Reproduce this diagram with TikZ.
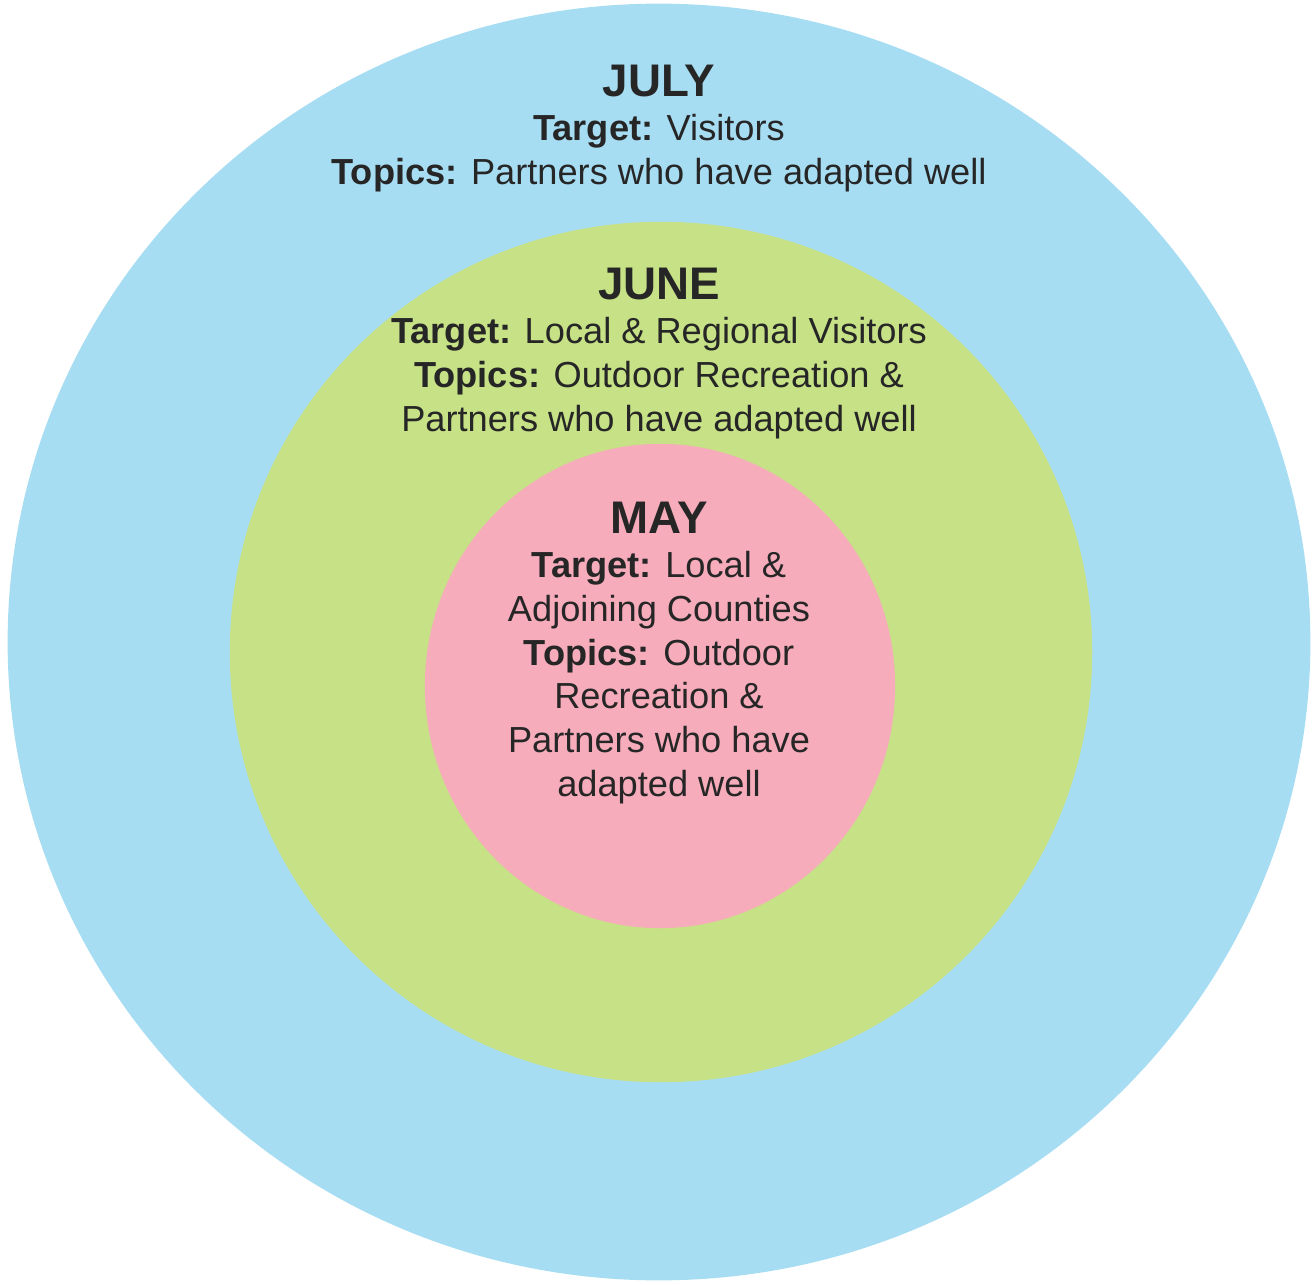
\documentclass[tikz,border=0pt]{standalone}
\usepackage{fontspec}
\setmainfont{Liberation Sans}
\usepackage{xcolor}
\usepackage{tikz}
\definecolor{julyblue}{RGB}{167,221,243}
\definecolor{junegreen}{RGB}{198,225,134}
\definecolor{maypink}{RGB}{246,172,187}
\definecolor{ink}{RGB}{38,38,38}
\tikzstyle{lbl}=[align=center, inner sep=0pt, anchor=north, text=ink, font=\fontsize{10.3}{12.5}\selectfont]
\newcommand{\mon}[1]{{\fontsize{13}{12.5}\selectfont\bfseries #1}}

\begin{document}
\begin{tikzpicture}[x=0.01cm, y=-0.01cm]
\useasboundingbox (0,0) rectangle (1312,1285);
% rings
\fill[julyblue] (659,642) ellipse [x radius=6.51cm, y radius=6.38cm];
\fill[junegreen] (661,652) ellipse [x radius=4.31cm, y radius=4.30cm];
\fill[maypink] (660,686) ellipse [x radius=2.35cm, y radius=2.42cm];
% texts
\node[lbl] (jul) at (659,64) {\mon{JULY}\\ \textbf{Target:} Visitors\\ \textbf{Topics:} Partners who have adapted well};
\node[lbl] (jun) at (659,267) {\mon{JUNE}\\ \textbf{Target:} Local \& Regional Visitors\\ \textbf{Topics:} Outdoor Recreation \&\\ Partners who have adapted well};
\node[lbl] (may) at (659,501) {\mon{MAY}\\ \textbf{Target:} Local \&\\ Adjoining Counties\\ \textbf{Topics:} Outdoor\\ Recreation \&\\ Partners who have\\ adapted well};
\end{tikzpicture}
\end{document}
